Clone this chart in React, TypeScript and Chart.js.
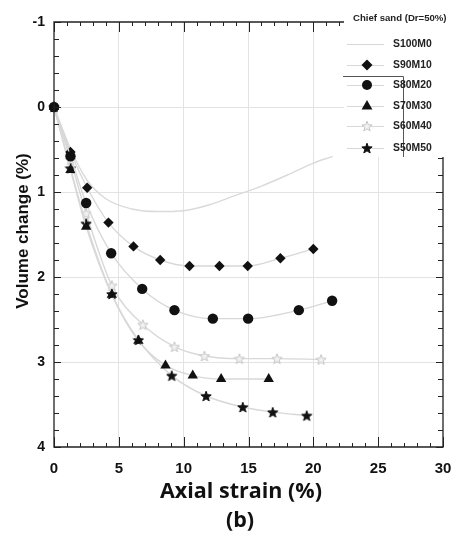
import React, { useEffect, useRef } from 'react';
import { Chart, registerables } from 'chart.js';

Chart.register(...registerables);

// ---- data (axial strain %, volume change %) ----
const xS100M0 = [0, 1.3, 2.5, 4, 6, 8, 10, 12, 14, 16, 18, 20, 21.5];
const yS100M0 = [0, 0.5, 0.85, 1.08, 1.2, 1.23, 1.22, 1.15, 1.04, 0.93, 0.8, 0.66, 0.58];

const xS90M10 = [0, 1.27, 2.56, 4.2, 6.13, 8.19, 10.45, 12.76, 14.94, 17.46, 20.0];
const yS90M10 = [0, 0.53, 0.95, 1.36, 1.64, 1.8, 1.87, 1.87, 1.87, 1.78, 1.67];

const xS80M20 = [0, 1.27, 2.48, 4.41, 6.8, 9.29, 12.25, 14.97, 18.88, 21.45];
const yS80M20 = [0, 0.58, 1.13, 1.72, 2.14, 2.39, 2.49, 2.49, 2.39, 2.28];

const xS70M30 = [0, 1.27, 2.48, 4.46, 6.51, 8.6, 10.7, 12.89, 16.56];
const yS70M30 = [0, 0.74, 1.41, 2.21, 2.75, 3.04, 3.16, 3.2, 3.2];

const xS60M40 = [0, 1.27, 2.48, 4.46, 6.85, 9.29, 11.6, 14.3, 17.2, 20.6];
const yS60M40 = [0, 0.62, 1.25, 2.1, 2.56, 2.82, 2.93, 2.96, 2.96, 2.97];

const xS50M50 = [0, 1.27, 2.48, 4.46, 6.51, 9.08, 11.73, 14.56, 16.87, 19.49];
const yS50M50 = [0, 0.72, 1.37, 2.2, 2.74, 3.16, 3.4, 3.53, 3.59, 3.63];

const seriesNames = ['S100M0', 'S90M10', 'S80M20', 'S70M30', 'S60M40', 'S50M50'];
const legendTitle = 'Chief sand (Dr=50%)';
const xTitle = 'Axial strain (%)';
const xSubTitle = '(b)';
const yTitle = 'Volume change (%)';

const xMin = 0, xMax = 30, xStep = 5;
const yMin = -1, yMax = 4, yStep = 1;

const pts = (xs: number[], ys: number[]) => xs.map((x, i) => ({ x, y: ys[i] }));

function makeStar(fill: string, stroke: string, size: number): HTMLCanvasElement {
  const c = document.createElement('canvas');
  c.width = size; c.height = size;
  const g = c.getContext('2d')!;
  const cx = size / 2, cy = size / 2 + 0.6, R = size / 2 - 0.6, r = R * 0.42;
  g.beginPath();
  for (let i = 0; i < 10; i++) {
    const a = -Math.PI / 2 + (i * Math.PI) / 5;
    const rr = i % 2 === 0 ? R : r;
    const px = cx + rr * Math.cos(a), py = cy + rr * Math.sin(a);
    if (i === 0) g.moveTo(px, py); else g.lineTo(px, py);
  }
  g.closePath();
  g.fillStyle = fill; g.fill();
  g.strokeStyle = stroke; g.lineWidth = 1; g.stroke();
  return c;
}

const INK = '#111';
const TREND = '#d8d8d8';

export default function App() {
  const ref = useRef<HTMLCanvasElement>(null);

  useEffect(() => {
    const starDark = makeStar(INK, INK, 12);
    const starLight = makeStar('#f2f2f2', '#c4c4c4', 12);

    const drawMarker = (ctx: CanvasRenderingContext2D, kind: string, x: number, y: number) => {
      ctx.save();
      ctx.fillStyle = INK;
      ctx.beginPath();
      if (kind === 'diamond') {
        const r = 5.5;
        ctx.moveTo(x, y - r); ctx.lineTo(x + r, y); ctx.lineTo(x, y + r); ctx.lineTo(x - r, y); ctx.closePath(); ctx.fill();
      } else if (kind === 'circle') {
        ctx.arc(x, y, 5, 0, Math.PI * 2); ctx.fill();
      } else if (kind === 'triangle') {
        const r = 6;
        ctx.moveTo(x, y - r); ctx.lineTo(x + r * 0.9, y + r * 0.6); ctx.lineTo(x - r * 0.9, y + r * 0.6); ctx.closePath(); ctx.fill();
      } else if (kind === 'starDark') {
        ctx.drawImage(starDark, x - 6, y - 6);
      } else if (kind === 'starLight') {
        ctx.drawImage(starLight, x - 6, y - 6);
      }
      ctx.restore();
    };

    const framePlugin = {
      id: 'frame',
      afterDraw(chart: any) {
        const { ctx, chartArea: a } = chart;
        const xs = chart.scales.x, ys = chart.scales.y;
        ctx.save();
        ctx.strokeStyle = '#222';
        ctx.lineWidth = 1.3;
        ctx.beginPath();
        ctx.rect(a.left, a.top, a.right - a.left, a.bottom - a.top);
        ctx.stroke();
        ctx.lineWidth = 1;
        ctx.beginPath();
        for (let v = xMin; v <= xMax; v += 1) {
          const px = Math.round(xs.getPixelForValue(v)) + 0.5;
          const len = v % 5 === 0 ? 10 : 4;
          ctx.moveTo(px, a.bottom); ctx.lineTo(px, a.bottom - len);
          ctx.moveTo(px, a.top); ctx.lineTo(px, a.top + len);
        }
        for (let i = 0; i <= 25; i++) {
          const v = yMin + i * 0.2;
          const py = Math.round(ys.getPixelForValue(v)) + 0.5;
          const len = i % 5 === 0 ? 7 : 5;
          ctx.moveTo(a.left, py); ctx.lineTo(a.left + len, py);
          ctx.moveTo(a.right, py); ctx.lineTo(a.right - len, py);
        }
        ctx.stroke();

        // legend panel
        const L = 344, T = 0, W = 113, H = 157;
        ctx.fillStyle = '#fff';
        ctx.fillRect(L, T, W, H);
        ctx.strokeStyle = '#555';
        ctx.lineWidth = 1;
        ctx.beginPath();
        ctx.moveTo(343, 76.5); ctx.lineTo(403.5, 76.5); ctx.lineTo(403.5, 157);
        ctx.stroke();

        ctx.fillStyle = '#222';
        ctx.font = 'bold 9.6px "Liberation Sans", Arial, sans-serif';
        ctx.textBaseline = 'middle';
        ctx.textAlign = 'left';
        ctx.fillText(legendTitle, 353, 18);
        const rowsY = [44, 65, 85, 106, 126, 148];
        const kinds = ['line', 'diamond', 'circle', 'triangle', 'starLight', 'starDark'];
        seriesNames.forEach((name, i) => {
          const yy = rowsY[i];
          ctx.strokeStyle = '#d8d8d8';
          ctx.lineWidth = 1;
          ctx.beginPath(); ctx.moveTo(347, yy + 0.5); ctx.lineTo(384, yy + 0.5); ctx.stroke();
          if (kinds[i] !== 'line') drawMarker(ctx, kinds[i], 367, yy);
          ctx.fillStyle = '#222';
          ctx.font = 'bold 10.4px "Liberation Sans", Arial, sans-serif';
          ctx.fillText(name, 393, yy);
        });

        // titles
        ctx.fillStyle = '#111';
        ctx.textAlign = 'center';
        ctx.textBaseline = 'middle';
        ctx.font = 'bold 21.5px "Open Sans", sans-serif';
        ctx.fillText(xTitle, 241, 492);
        ctx.fillText(xSubTitle, 240, 521);
        ctx.save();
        ctx.translate(23, 231);
        ctx.rotate(-Math.PI / 2);
        ctx.font = 'bold 17px "Liberation Sans", Arial, sans-serif';
        ctx.fillText(yTitle, 0, 0);
        ctx.restore();
        ctx.restore();
      },
    };

    const lineDs = (label: string, xs: number[], ys: number[], style: any, radius = 5, color = TREND) => ({
      label,
      data: pts(xs, ys),
      showLine: true,
      clip: false,
      borderColor: color,
      borderWidth: 1.4,
      cubicInterpolationMode: 'monotone',
      backgroundColor: INK,
      pointBackgroundColor: INK,
      pointBorderColor: INK,
      pointStyle: style,
      pointRadius: style ? radius : 0,
      pointHoverRadius: style ? radius : 0,
      pointBorderWidth: 0,
    });

    const chart = new Chart(ref.current!, {
      type: 'scatter',
      data: {
        // first dataset is drawn on top
        datasets: [
          lineDs(seriesNames[2], xS80M20, yS80M20, 'circle', 5.2),
          lineDs(seriesNames[1], xS90M10, yS90M10, 'rectRot', 5.2),
          lineDs(seriesNames[3], xS70M30, yS70M30, 'triangle', 6),
          lineDs(seriesNames[5], xS50M50, yS50M50, starDark, 6),
          lineDs(seriesNames[4], xS60M40, yS60M40, starLight, 6),
          lineDs(seriesNames[0], xS100M0, yS100M0, false, 0, '#dadada'),
        ] as any,
      },
      options: {
        animation: false,
        responsive: false,
        layout: { autoPadding: false, padding: { top: 22, right: 14, left: 0, bottom: 0 } },
        plugins: { legend: { display: false }, tooltip: { enabled: false } },
        scales: {
          x: {
            type: 'linear',
            min: xMin, max: xMax,
            border: { display: false },
            grid: {
              drawTicks: false,
              color: (c: any) => (c.tick && (c.tick.value === xMin || c.tick.value === xMax) ? 'rgba(0,0,0,0)' : '#e3e3e3'),
            },
            ticks: {
              stepSize: xStep,
              padding: 13,
              color: '#111',
              font: { family: '"Liberation Sans", Arial, sans-serif', size: 15, weight: 'bold' },
            },
            afterFit: (s: any) => { s.height = 93; s.paddingLeft = 0; s.paddingRight = 0; },
          },
          y: {
            type: 'linear',
            reverse: true,
            min: yMin, max: yMax,
            border: { display: false },
            grid: {
              drawTicks: false,
              color: (c: any) => (c.tick && (c.tick.value === yMin || c.tick.value === yMax) ? 'rgba(0,0,0,0)' : '#e3e3e3'),
            },
            ticks: {
              stepSize: yStep,
              padding: 9,
              color: '#111',
              font: { family: '"Liberation Sans", Arial, sans-serif', size: 14, weight: 'bold' },
            },
            afterFit: (s: any) => { s.width = 54; s.paddingTop = 0; s.paddingBottom = 0; },
          },
        },
      } as any,
      plugins: [framePlugin],
    });
    return () => chart.destroy();
  }, []);

  return (
    <div style={{ position: 'absolute', left: 0, top: 0, width: 457, height: 540, background: '#fff' }}>
      <canvas ref={ref} width={457} height={540} style={{ display: 'block' }} />
    </div>
  );
}
